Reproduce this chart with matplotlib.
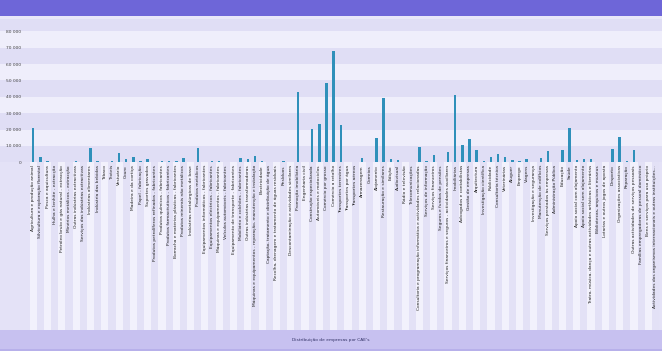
import matplotlib
matplotlib.use("Agg")
import matplotlib.pyplot as plt
from matplotlib.patches import Rectangle
from matplotlib.transforms import blended_transform_factory

categories = [
    "Agricultura e produção animal", "Silvicultura e exploração florestal", "Pesca e aquicultura",
    "Hulha e lenhite - extracção", "Petróleo bruto e gás natural - extracção",
    "Minérios metálicos - extracção", "Outras indústrias extractivas",
    "Serviços das indústrias extractivas", "Indústrias alimentares", "Indústria das bebidas",
    "Tabaco", "Têxteis", "Vestuário", "Couro", "Madeira e da cortiça", "Papel - fabricação",
    "Suportes gravados", "Produtos petrolíferos refinados - fabricantes",
    "Produtos químicos - fabricantes", "Produtos farmacêuticos - fabricantes",
    "Borracha e matérias plásticas - fabricantes", "Produtos minerais não metálicos",
    "Indústrias metalúrgicas de base", "Produtos metálicos",
    "Equipamentos informáticos - fabricantes", "Equipamentos eléctricos - fabricantes",
    "Máquinas e equipamentos - fabricantes", "Veículos automóveis - fabricantes",
    "Equipamento de transporte - fabricantes", "Mobiliário e colchões - fabricantes",
    "Outras indústrias transformadoras",
    "Máquinas e equipamentos - reparação, manutenção e instalação", "Electricidade",
    "Captação, tratamento e distribuição de água",
    "Recolha, drenagem e tratamento de águas residuais", "Resíduos",
    "Descontaminação e actividades similares", "Promoção imobiliária", "Engenharia civil",
    "Construção especializada", "Automóveis e motociclos", "Comércio por grosso",
    "Comércio a retalho", "Transportes terrestres", "Transportes por água",
    "Transportes aéreos", "Armazenagem", "Correios", "Alojamento", "Restauração e similares",
    "Edição", "Audiovisual", "Rádio e televisão", "Telecomunicações",
    "Consultoria e programação informática e actividades relacionadas",
    "Serviços de informação", "Serviços financeiros", "Seguros e fundos de pensões",
    "Serviços financeiros e seguros - actividades auxiliares", "Imobiliárias",
    "Advogados e contabilistas", "Gestão de empresas", "Arquitectura",
    "Investigação científica", "Publicidade", "Consultoria técnica", "Veterinárias",
    "Aluguer", "Emprego", "Viagens", "Investigação e segurança", "Manutenção de edifícios",
    "Serviços prestados às empresas", "Administração Pública", "Educação", "Saúde",
    "Apoio social com alojamento", "Apoio social sem alojamento",
    "Teatro, música, dança e outras actividades artísticas e literárias",
    "Bibliotecas, arquivos e museus", "Lotarias e outros jogos de aposta", "Desporto",
    "Organizações associativas", "Reparação", "Outras actividades de serviços pessoais",
    "Famílias empregadoras de pessoal doméstico", "Bens e serviços para uso próprio",
    "Actividades dos organismos internacionais e outras instituições...",
]

empresas = [
    21000, 3000, 800, 0, 50, 100, 700, 100, 8500, 1000,
    20, 700, 5600, 2300, 3200, 500, 2300, 0, 800, 900,
    800, 2500, 100, 8500, 200, 600, 1000, 300, 200, 2800,
    1800, 3900, 1000, 100, 200, 1000, 50, 43000, 200, 20400,
    23400, 48300, 67800, 23000, 300, 100, 2700, 100, 14700, 39200,
    2100, 1700, 400, 400, 9500, 900, 4600, 200, 6000, 40800,
    10600, 14500, 7700, 600, 3300, 5300, 3250, 1500, 700, 2100,
    200, 2850, 6900, 300, 7700, 20900, 1500, 1800, 2200, 100,
    50, 8150, 15300, 700, 7700, 0, 0, 0,
]

yticks = [0, 10000, 20000, 30000, 40000, 50000, 60000, 70000, 80000]
titulo = "Distribuição de empresas por CAE's"

W, H = 662, 351
fig = plt.figure(figsize=(W / 100, H / 100), dpi=100)
fig.patch.set_facecolor("#e4e2f7")

# axes placement in pixels
x0, x1 = 29.7, 659.0
y_base, y_top = 162.3, 19.0
foot = 21
ax = fig.add_axes([x0 / W, 1 - y_base / H, (x1 - x0) / W, (y_base - y_top) / H])
ax.set_facecolor("none")
ax.set_xlim(-0.5, len(categories) - 0.5)
ax.set_ylim(0, 87500)

# header and footer bands
fig.patches.append(Rectangle((0, 1 - 16 / H), 1, 16 / H, transform=fig.transFigure,
                             facecolor="#6e66d8", edgecolor="none", zorder=0))
fig.patches.append(Rectangle((0, 1 - 19 / H), 1, 3 / H, transform=fig.transFigure,
                             facecolor="#e9e7f9", edgecolor="none", zorder=0))
fig.patches.append(Rectangle((0, 0), 1, foot / H, transform=fig.transFigure,
                             facecolor="#c7c1f0", edgecolor="none", zorder=0))
fig.patches.append(Rectangle((0, 0), 1, 2 / H, transform=fig.transFigure,
                             facecolor="#b7b0ea", edgecolor="none", zorder=0))

# horizontal bands behind the bars, also over the y label margin
for i in range(9):
    lo = i * 10000
    hi = min(lo + 10000, 87500)
    color = "#e0def5" if i % 2 == 0 else "#efeefb"
    ax.axhspan(lo, hi, xmin=-x0 / (x1 - x0), xmax=1 + (W - x1) / (x1 - x0),
               facecolor=color, edgecolor="none", clip_on=False, zorder=0)

# vertical stripes under the category labels
tr = blended_transform_factory(ax.transData, fig.transFigure)
for i in range(len(categories)):
    color = "#f2f1fc" if i % 2 == 0 else "#e3e1f6"
    ax.add_patch(Rectangle((i - 0.5, foot / H), 1, (H - y_base - foot) / H,
                           transform=tr, facecolor=color, edgecolor="none",
                           clip_on=False, zorder=0))

ax.bar(range(len(categories)), empresas, width=0.34, color="#2f90ba", zorder=3)

for s in ax.spines.values():
    s.set_visible(False)
ax.set_yticks(yticks)
ax.set_yticklabels([f"{v:,}".replace(",", " ") for v in yticks], fontsize=3.2, color="#444444")
ax.set_xticks(range(len(categories)))
ax.set_xticklabels(categories, rotation=90, fontsize=3.2, color="#222222")
ax.tick_params(axis="x", length=0, pad=2)
ax.tick_params(axis="y", length=0, pad=6)

fig.text(0.5, 11 / H, titulo, ha="center", va="center", fontsize=3.2, color="#333366")

fig.savefig("out.png", dpi=100, facecolor=fig.get_facecolor())
